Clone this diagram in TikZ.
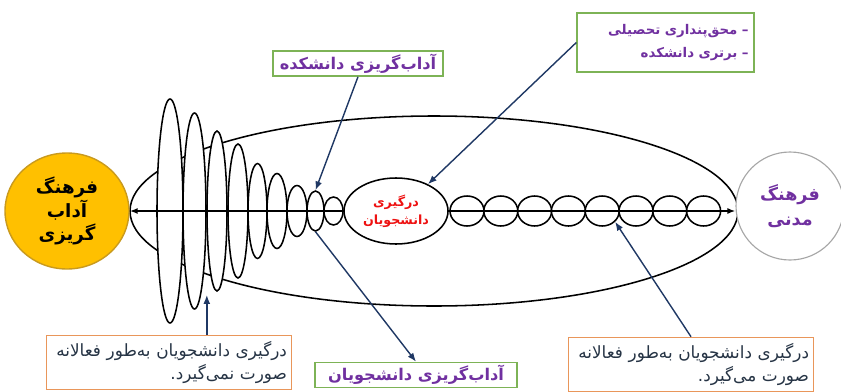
\documentclass[tikz,border=0pt]{standalone}
\usepackage{fontspec}
\usetikzlibrary{arrows.meta,shapes.geometric,calc}
\TeXXeTstate=1
\newfontfamily\farsi[Script=Arabic]{DejaVu Sans}
\definecolor{culpurple}{HTML}{7030A0}
\definecolor{culgreen}{HTML}{7DB356}
\definecolor{culorange}{HTML}{E9965A}
\definecolor{culnavy}{HTML}{1F3864}
\definecolor{culnote}{HTML}{263445}
\definecolor{culyellow}{HTML}{FFC000}
\definecolor{culgold}{HTML}{C99A1E}
\definecolor{culgray}{HTML}{A6A6A6}
\definecolor{culred}{HTML}{EE1111}

\begin{document}
\begin{tikzpicture}[
    font=\farsi,
    >=Latex,
    ring/.style={
        ellipse,
        draw=black,
        fill=white,
        inner sep=0pt,
        line width=1.1pt
    },
    tagbox/.style={
        draw=culgreen,
        fill=white,
        text=culpurple,
        inner sep=2pt,
        line width=1.1pt,
        font=\farsi\bfseries\fontsize{11.5}{13}\selectfont
    },
    notebox/.style={
        draw=culorange,
        fill=white,
        text=culnote,
        text width=5.9cm,
        minimum height=1.35cm,
        align=right,
        line width=1.1pt,
        font=\farsi\fontsize{12}{17}\selectfont
    },
    callout/.style={-{Latex[length=2.2mm,width=1.7mm]},draw=culnavy,line width=1pt},
    axis/.style={{Latex[length=2mm]}-{Latex[length=2mm]},line width=1.2pt}
]
\useasboundingbox (0,0) rectangle (21.025,9.775);

% Outer envelope
\node[ring, minimum width=15.2cm, minimum height=4.75cm] (outer) at (10.85,4.5) {};

% Shrinking ellipses on the left
\foreach \n/\x/\w/\h in {1/4.25/0.65/5.6, 2/4.8625/0.575/4.9, 3/5.425/0.5/4.0,
    4/5.95/0.5/3.35, 5/6.4375/0.475/2.375, 6/6.925/0.5/1.875,
    7/7.425/0.5/1.275, 8/7.8875/0.425/1.0, 9/8.3375/0.475/0.7}
    \node[ring, minimum width=\w cm, minimum height=\h cm] (e\n) at (\x,4.5) {};

% Chain of equal circles on the right
\foreach \k in {1,...,8}
    \node[ring, minimum width=0.85cm, minimum height=0.75cm] (c\k) at ({11.675+0.845*(\k-1)},4.5) {};

% The two cultures
\node[ellipse, draw=culgold, fill=culyellow, line width=1pt, minimum width=3.1cm,
    minimum height=2.9cm, align=center, font=\farsi\bfseries\fontsize{13}{17}\selectfont]
    (fa) at (1.675,4.5) {\beginR فرهنگ\endR\\\beginR آداب\endR\\\beginR گریزی\endR};
\node[circle, draw=culgray, fill=white, line width=0.8pt, minimum size=2.7cm, align=center,
    text=culpurple, font=\farsi\bfseries\fontsize{12.5}{18}\selectfont]
    (fm) at (19.75,4.625) {\beginR فرهنگ\endR\\\beginR مدنی\endR};

\draw[axis] (fa.east) -- (fa.east -| fm.west);

% Engagement in the middle
\node[ring, minimum width=2.6cm, minimum height=1.65cm, align=center, text=culred,
    font=\farsi\bfseries\fontsize{9}{13}\selectfont]
    (dis) at (9.9,4.5) {\beginR درگیری\endR\\\beginR دانشجویان\endR};

% Labels
\node[tagbox, minimum width=4.425cm, minimum height=1.475cm, text width=4.15cm, align=right,
    font=\farsi\bfseries\fontsize{9.5}{16}\selectfont]
    (ts) at (16.64,8.7125) {\beginR – محق^^^^200cپنداری تحصیلی\endR\\\beginR – برتری دانشکده\endR};
\node[tagbox, minimum width=4.25cm, minimum height=0.575cm] (tf) at (8.95,8.1875)
    {\beginR آداب^^^^200cگریزی دانشکده\endR};
\node[tagbox, minimum width=5.05cm, minimum height=0.6cm] (bs) at (10.4,0.4)
    {\beginR آداب^^^^200cگریزی دانشجویان\endR};
\node[notebox] (bl) at (4.225,0.7125)
    {\beginR درگیری دانشجویان به^^^^200cطور فعالانه\endR\\\beginR صورت نمی^^^^200cگیرد.\endR};
\node[notebox] (br) at (17.275,0.6625)
    {\beginR درگیری دانشجویان به^^^^200cطور فعالانه\endR\\\beginR صورت می^^^^200cگیرد.\endR};

% Callouts
\coordinate (lowtip) at (5.17,2.4);
\draw[callout] (ts.west) -- (dis.40);
\draw[callout] (tf.south) -- (e8.north);
\draw[callout] (e8.south) -- (bs.north);
\draw[callout] (bl.north -| lowtip) -- (lowtip);
\draw[callout] (br.north) -- (c5.-40);

\end{tikzpicture}
\end{document}
